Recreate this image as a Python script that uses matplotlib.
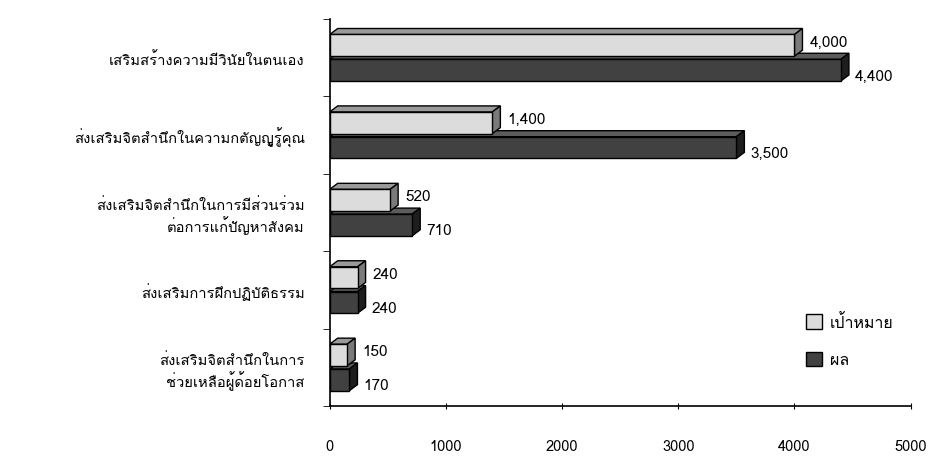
import matplotlib
matplotlib.use("Agg")
import matplotlib.pyplot as plt
from matplotlib import font_manager, ft2font
from matplotlib.patches import Polygon, Patch
import numpy as np

categories = [
    "เสริมสร้างความมีวินัยในตนเอง",
    "ส่งเสริมจิตสำนึกในความกตัญญูรู้คุณ",
    "ส่งเสริมจิตสำนึกในการมีส่วนร่วม\nต่อการแก้ปัญหาสังคม",
    "ส่งเสริมการฝึกปฏิบัติธรรม",
    "ส่งเสริมจิตสำนึกในการ\nช่วยเหลือผู้ด้อยโอกาส",
]
target = [4000, 1400, 520, 240, 150]
result = [4400, 3500, 710, 240, 170]
series_names = ["เป้าหมาย", "ผล"]
xticks = [0, 1000, 2000, 3000, 4000, 5000]

# find a font that has Thai glyphs
thai_font = None
for f in font_manager.fontManager.ttflist:
    try:
        if 0x0E01 in ft2font.FT2Font(f.fname).get_charmap():
            thai_font = f.name
            break
    except Exception:
        pass
if thai_font:
    plt.rcParams["font.family"] = [thai_font, "DejaVu Sans"]
else:
    plt.rcParams["font.family"] = ["DejaVu Sans"]

fig = plt.figure(figsize=(9.34, 4.60), dpi=100)
ax = fig.add_axes([0.353, 0.115, 0.622, 0.8415])
ax.set_xlim(0, 5000)
ax.set_ylim(4.5, -0.5)

# pixel sizes of the 3d depth converted to data units
px_x = 5000 / (0.622 * 934)
px_y = 5.0 / (0.8415 * 460)
dx = 8 * px_x
dy = 6 * px_y

bar_h = 0.28
light = ("#dcdcdc", "#9a9a9a", "#7a7a7a")
dark = ("#414141", "#5c5c5c", "#1e1e1e")


def bar3d(y, value, colors, z):
    front, top, side = colors
    y0 = y - bar_h / 2
    y1 = y + bar_h / 2
    ax.add_patch(Polygon([(0, y0), (value, y0), (value + dx, y0 - dy), (dx, y0 - dy)],
                         closed=True, facecolor=top, edgecolor="black", lw=1.0, zorder=z))
    ax.add_patch(Polygon([(value, y0), (value, y1), (value + dx, y1 - dy), (value + dx, y0 - dy)],
                         closed=True, facecolor=side, edgecolor="black", lw=1.0, zorder=z))
    ax.add_patch(Polygon([(0, y0), (value, y0), (value, y1), (0, y1)],
                         closed=True, facecolor=front, edgecolor="black", lw=1.0, zorder=z))


ypos = np.arange(len(categories))
for i in ypos:
    bar3d(i + 0.16, result[i], dark, 2)
    bar3d(i - 0.16, target[i], light, 3)
    ax.text(target[i] + dx + 60, i - 0.21, f"{target[i]:,}", va="center", ha="left", fontsize=11)
    ax.text(result[i] + dx + 50, i + 0.23, f"{result[i]:,}", va="center", ha="left", fontsize=11)

ax.set_yticks(ypos)
ax.set_yticklabels(categories, fontsize=10.6, ha="right", multialignment="right")
ax.tick_params(axis="y", which="major", length=0, pad=18)
ax.set_yticks(np.arange(-0.5, len(categories)), minor=True)
ax.tick_params(axis="y", which="minor", length=5, direction="out")

ax.set_xticks(xticks)
ax.set_xticklabels([str(t) for t in xticks], fontsize=10.5)
ax.tick_params(axis="x", length=5, direction="inout", pad=21)

for s in ["top", "right"]:
    ax.spines[s].set_visible(False)
ax.spines["left"].set_linewidth(1.2)
ax.spines["bottom"].set_linewidth(1.2)

handles = [Patch(facecolor=light[0], edgecolor="black"), Patch(facecolor=dark[0], edgecolor="black")]
ax.legend(handles, series_names, loc="center left", bbox_to_anchor=(0.795, 0.168),
          frameon=False, fontsize=11.5, labelspacing=1.3, handlelength=1.0,
          handleheight=1.0, handletextpad=0.5)

fig.savefig("out.png", dpi=100)
